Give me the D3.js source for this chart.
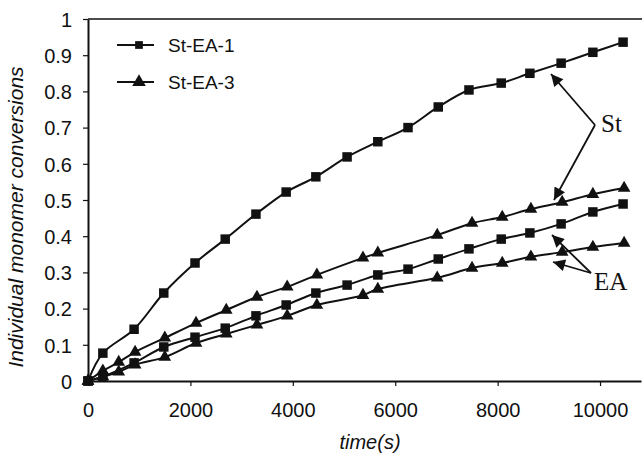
<!DOCTYPE html>
<html>
<head>
<meta charset="utf-8">
<script src="https://cdn.jsdelivr.net/npm/d3@7"></script>
<style>
body { margin: 0; background: #fff; }
text { font-family: Arial, "Liberation Sans", sans-serif; fill: #111; }
.ann { font-family: "Times New Roman", "Liberation Serif", serif; font-size: 25px; }
</style>
</head>
<body>
<svg id="chart" width="642" height="454"></svg>
<script>
// data
var time1 = [0, 290, 900, 1480, 2090, 2680, 3280, 3870, 4450, 5060, 5660, 6250, 6840, 7440, 8070, 8630, 9240, 9860, 10450];
var st1 = [0, 0.077, 0.143, 0.243, 0.326, 0.392, 0.461, 0.522, 0.564, 0.619, 0.661, 0.70, 0.757, 0.804, 0.823, 0.850, 0.878, 0.908, 0.936];
var ea1 = [0, 0.012, 0.050, 0.094, 0.121, 0.146, 0.180, 0.210, 0.243, 0.265, 0.293, 0.309, 0.337, 0.365, 0.392, 0.409, 0.434, 0.467, 0.489];
var time3 = [0, 290, 600, 920, 1500, 2110, 2700, 3300, 3890, 4470, 5370, 5660, 6820, 7500, 8090, 8650, 9260, 9860, 10470];
var st3 = [0, 0.028, 0.052, 0.080, 0.119, 0.160, 0.196, 0.232, 0.260, 0.293, 0.340, 0.354, 0.403, 0.436, 0.453, 0.475, 0.494, 0.516, 0.533];
var ea3 = [0, 0.012, 0.025, 0.045, 0.066, 0.105, 0.130, 0.155, 0.180, 0.210, 0.237, 0.254, 0.285, 0.312, 0.326, 0.343, 0.356, 0.370, 0.381];
var xTicks = [0, 2000, 4000, 6000, 8000, 10000];
var yTicks = [0, 0.1, 0.2, 0.3, 0.4, 0.5, 0.6, 0.7, 0.8, 0.9, 1];
var legendNames = ["St-EA-1", "St-EA-3"];

var padLeft = 88, padRight = 641, padTop = 19, padBottom = 381;

var svg = d3.select("#chart");

var x = d3.scaleLinear()
.domain([0, 10800])
.range([padLeft, padRight]);

var y = d3.scaleLinear()
.domain([0, 1])
.range([padBottom, padTop]);

// frame top line
svg.append("line")
.attr("x1", padLeft).attr("x2", 642)
.attr("y1", padTop).attr("y2", padTop)
.attr("stroke", "#111")
.attr("stroke-width", 1.5);

var xAxis = svg.append("g")
.attr("transform", "translate(0," + padBottom + ")")
.call(d3.axisBottom(x).tickValues(xTicks).tickSize(5).tickSizeOuter(0).tickPadding(17)
.tickFormat(d3.format("d")));

var yAxis = svg.append("g")
.attr("transform", "translate(" + padLeft + ",0)")
.call(d3.axisLeft(y).tickValues(yTicks).tickSize(5).tickSizeOuter(0).tickPadding(11)
.tickFormat(function (d) { return d === 0 || d === 1 ? d : d3.format(".1f")(d); }));

svg.selectAll(".domain")
.attr("stroke", "#111")
.attr("stroke-width", 2);
svg.selectAll(".tick line")
.attr("stroke", "#111")
.attr("stroke-width", 1.2);
svg.selectAll(".tick text")
.style("font-size", "20px")
.style("font-family", "Arial, 'Liberation Sans', sans-serif")
.attr("fill", "#111");
yAxis.selectAll(".tick text").attr("dy", "0.36em");

// axis titles
svg.append("text")
.attr("x", 370)
.attr("y", 449)
.attr("text-anchor", "middle")
.style("font-size", "20px")
.style("font-style", "italic")
.text("time(s)");

svg.append("text")
.attr("transform", "translate(23,217)rotate(-90)")
.attr("text-anchor", "middle")
.style("font-size", "21px")
.style("font-style", "italic")
.text("Individual monomer conversions");

var line = d3.line()
.x(function (d) { return x(d[0]); })
.y(function (d) { return y(d[1]); })
.curve(d3.curveCatmullRom.alpha(0.5));

var series = [
  {t: time1, v: st1, sym: d3.symbolSquare, size: 90},
  {t: time1, v: ea1, sym: d3.symbolSquare, size: 90},
  {t: time3, v: st3, sym: d3.symbolTriangle, size: 70},
  {t: time3, v: ea3, sym: d3.symbolTriangle, size: 70}
];

series.forEach(function (s) {
  var pts = d3.zip(s.t, s.v);
  svg.append("path")
  .datum(pts)
  .attr("d", line)
  .attr("fill", "none")
  .attr("stroke", "#111")
  .attr("stroke-width", 2);

  svg.append("g").selectAll("path")
  .data(pts)
  .enter().append("path")
  .attr("transform", function (d) { return "translate(" + x(d[0]) + "," + y(d[1]) + ")"; })
  .attr("d", d3.symbol().type(s.sym).size(s.size))
  .attr("fill", "#111");
});

// legend
var legend = svg.selectAll("g.legend")
.data(legendNames)
.enter().append("g")
.attr("class", "legend")
.attr("transform", function (d, i) { return "translate(0," + (45 + i * 37) + ")"; });

legend.append("line")
.attr("x1", 117).attr("x2", 154)
.attr("stroke", "#111")
.attr("stroke-width", 2);

legend.append("path")
.attr("transform", "translate(139,0)")
.attr("d", function (d, i) { return i === 0 ? d3.symbol().type(d3.symbolSquare).size(60)() : d3.symbol().type(d3.symbolTriangle).size(80)(); })
.attr("fill", "#111");

legend.append("text")
.attr("x", 168)
.attr("y", 7)
.style("font-size", "19px")
.text(function (d) { return d; });

// arrow annotations
svg.append("defs").append("marker")
.attr("id", "head")
.attr("viewBox", "0 0 10 10")
.attr("refX", 10).attr("refY", 5)
.attr("markerWidth", 14).attr("markerHeight", 12)
.attr("markerUnits", "userSpaceOnUse")
.attr("orient", "auto")
.append("path")
.attr("d", "M0,0L10,5L0,10Z")
.attr("fill", "#111");

var arrows = [
  [595, 125, 551, 74],
  [595, 125, 554, 200],
  [591, 273, 552, 235],
  [591, 273, 553, 262]
];

svg.selectAll("line.arrow")
.data(arrows)
.enter().append("line")
.attr("class", "arrow")
.attr("x1", function (d) { return d[0]; })
.attr("y1", function (d) { return d[1]; })
.attr("x2", function (d) { return d[2]; })
.attr("y2", function (d) { return d[3]; })
.attr("stroke", "#111")
.attr("stroke-width", 1.8)
.attr("marker-end", "url(#head)");

svg.append("text")
.attr("class", "ann")
.attr("x", 601)
.attr("y", 132)
.text("St");

svg.append("text")
.attr("class", "ann")
.attr("x", 594)
.attr("y", 290)
.text("EA");
</script>
</body>
</html>
